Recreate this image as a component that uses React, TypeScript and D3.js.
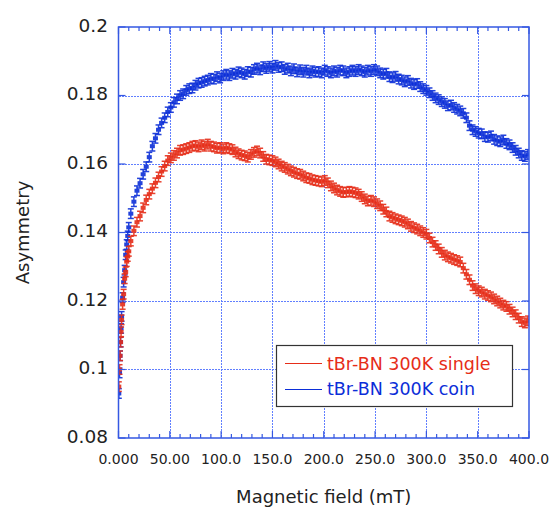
import React from "react";
import * as d3 from "d3";

const W = 552;
const H = 507;

const xTicks = [0, 50, 100, 150, 200, 250, 300, 350, 400];
const xTickLabels = ["0.000", "50.00", "100.0", "150.0", "200.0", "250.0", "300.0", "350.0", "400.0"];
const yTicks = [0.08, 0.1, 0.12, 0.14, 0.16, 0.18, 0.2];
const yTickLabels = ["0.08", "0.1", "0.12", "0.14", "0.16", "0.18", "0.2"];

const field = [
  0.3, 1, 1.5, 2, 2.5, 3, 4, 5, 6, 7, 8, 9, 10, 12, 15, 18, 21, 24, 27, 30, 33, 36, 39, 42, 45, 48,
  51, 54, 57, 60, 63, 66, 69, 72, 75, 78, 81, 84, 87, 90, 93, 96, 99, 102, 105, 108, 111, 114, 117,
  120, 123, 126, 129, 132, 135, 138, 141, 144, 147, 150, 153, 156, 159, 162, 165, 168, 171, 174, 177,
  180, 183, 186, 189, 192, 195, 198, 201, 204, 207, 210, 213, 216, 219, 222, 225, 228, 231, 234, 237,
  240, 243, 246, 249, 252, 255, 258, 261, 264, 267, 270, 273, 276, 279, 282, 285, 288, 291, 294, 297,
  300, 303, 306, 309, 312, 315, 318, 321, 324, 327, 330, 333, 336, 339, 342, 345, 348, 351, 354, 357,
  360, 363, 366, 369, 372, 375, 378, 381, 384, 387, 390, 393, 396, 399,
];

const coin = [
  0.093, 0.099, 0.104, 0.108, 0.112, 0.1155, 0.121, 0.1255, 0.129, 0.1335, 0.1365, 0.139, 0.1415,
  0.1455, 0.149, 0.1522, 0.1544, 0.157, 0.1592, 0.162, 0.1652, 0.1675, 0.17, 0.172, 0.1735, 0.1752,
  0.1765, 0.178, 0.179, 0.18, 0.1805, 0.1815, 0.182, 0.1822, 0.183, 0.1836, 0.1838, 0.1842, 0.1845,
  0.185, 0.1848, 0.1855, 0.1851, 0.1858, 0.1862, 0.1858, 0.1865, 0.1862, 0.1869, 0.1866, 0.1862,
  0.187, 0.1868, 0.1876, 0.188, 0.1875, 0.1884, 0.1879, 0.1885, 0.188, 0.1888, 0.1882, 0.1884,
  0.1876, 0.188, 0.1872, 0.1878, 0.1869, 0.1875, 0.1868, 0.1874, 0.1866, 0.1872, 0.1868, 0.187,
  0.1866, 0.1874, 0.187, 0.1866, 0.1872, 0.1868, 0.1874, 0.1872, 0.1866, 0.187, 0.1874, 0.187,
  0.1876, 0.1872, 0.1868, 0.1874, 0.187, 0.1876, 0.1872, 0.1866, 0.1862, 0.1865, 0.1855, 0.1852,
  0.1856, 0.1848, 0.1845, 0.184, 0.1844, 0.1836, 0.1832, 0.1835, 0.1826, 0.182, 0.1815, 0.1808,
  0.18, 0.1793, 0.1788, 0.1782, 0.1777, 0.177, 0.1772, 0.1765, 0.176, 0.1755, 0.1748, 0.1735,
  0.1712, 0.17, 0.1695, 0.169, 0.1688, 0.168, 0.1678, 0.1682, 0.1672, 0.1668, 0.1665, 0.167, 0.166,
  0.1656, 0.1648, 0.164, 0.1632, 0.1625, 0.1622, 0.1628,
];

const single = [
  0.095, 0.1, 0.104, 0.108, 0.111, 0.1145, 0.119, 0.122, 0.1265, 0.1285, 0.1315, 0.133, 0.1345,
  0.1375, 0.1405, 0.143, 0.1448, 0.1472, 0.1495, 0.1512, 0.1528, 0.1545, 0.1562, 0.1578, 0.1594,
  0.161, 0.1618, 0.1625, 0.1632, 0.164, 0.1642, 0.1645, 0.1648, 0.1652, 0.1654, 0.165, 0.1656,
  0.1652, 0.1658, 0.1652, 0.165, 0.1646, 0.1648, 0.1644, 0.1648, 0.1645, 0.1642, 0.1635, 0.163,
  0.1626, 0.1624, 0.162, 0.1628, 0.1634, 0.1638, 0.1632, 0.1622, 0.1614, 0.1612, 0.161, 0.1606, 0.16,
  0.1594, 0.159, 0.1585, 0.158, 0.1576, 0.1572, 0.157, 0.1565, 0.156, 0.1558, 0.1554, 0.1552, 0.155,
  0.1548, 0.1552, 0.1545, 0.1536, 0.153, 0.1524, 0.152, 0.1517, 0.1518, 0.152, 0.1518, 0.1516,
  0.1512, 0.1505, 0.1498, 0.1492, 0.1494, 0.149, 0.1484, 0.1478, 0.1468, 0.146, 0.1448, 0.1444,
  0.144, 0.1437, 0.1434, 0.143, 0.1425, 0.1418, 0.1414, 0.141, 0.1405, 0.14, 0.1395, 0.1384, 0.1372,
  0.1362, 0.1352, 0.1342, 0.1334, 0.1329, 0.1325, 0.1321, 0.1318, 0.1314, 0.1296, 0.1278, 0.1262,
  0.1245, 0.1236, 0.123, 0.1226, 0.122, 0.1216, 0.1212, 0.1206, 0.12, 0.1194, 0.1188, 0.1184, 0.1176,
  0.1168, 0.116, 0.115, 0.114, 0.1136, 0.1142,
];

const errCoin = 0.0014;
const errSingle = 0.0014;

const seriesNames = ["tBr-BN 300K single", "tBr-BN 300K coin"];
const RED = "#e62d18";
const BLUE = "#0b2ed8";

const margin = { left: 118.5, right: 23, top: 27, bottom: 69 };

export default function App() {
  const x = d3.scaleLinear().domain([0, 400]).range([margin.left, W - margin.right]);
  const y = d3.scaleLinear().domain([0.08, 0.2]).range([H - margin.bottom, margin.top]);
  const [x0, x1] = x.range();
  const [yb, yt] = y.range();
  const minorX = d3.range(0, 401, 10).filter((v) => v % 50 !== 0);
  const gridColor = "#2d55ff";
  const fontFam = "'DejaVu Sans', Verdana, sans-serif";
  const px = (v: number) => Math.round(v) + 0.5;

  const renderSeries = (vals: number[], err: number, color: string) =>
    field.map((f, i) => {
      const cx = x(f);
      const cy = y(vals[i]);
      const ylo = y(vals[i] - err);
      const yhi = y(vals[i] + err);
      return (
        <g key={i} stroke={color} strokeWidth={1.5} opacity={0.9}>
          <line x1={cx} x2={cx} y1={ylo} y2={yhi} />
          <line x1={cx - 3} x2={cx + 3} y1={ylo} y2={ylo} />
          <line x1={cx - 3} x2={cx + 3} y1={yhi} y2={yhi} />
          <rect x={cx - 2.5} y={cy - 2} width={5} height={4} fill={color} stroke="none" />
        </g>
      );
    });

  return (
    <svg
      width={W}
      height={H}
      style={{ position: "absolute", left: 0, top: 0, background: "#fff" }}
      fontFamily={fontFam}
    >
      <defs>
        <clipPath id="plotClip">
          <rect x={x0} y={yt} width={x1 - x0} height={yb - yt} />
        </clipPath>
      </defs>
      <rect x={0} y={0} width={W} height={H} fill="#fff" />
      {/* grid */}
      <g stroke={gridColor} strokeWidth={1} strokeDasharray="2 1" shapeRendering="crispEdges" opacity={0.75}>
        {xTicks.slice(1, -1).map((t) => (
          <line key={"gx" + t} x1={px(x(t))} x2={px(x(t))} y1={yt} y2={yb} />
        ))}
        {yTicks.slice(1, -1).map((t) => (
          <line key={"gy" + t} x1={x0} x2={x1} y1={px(y(t))} y2={px(y(t))} />
        ))}
      </g>
      {/* data */}
      <g clipPath="url(#plotClip)">
        {renderSeries(coin, errCoin, BLUE)}
        {renderSeries(single, errSingle, RED)}
      </g>
      {/* frame and ticks */}
      <rect x={x0} y={yt} width={x1 - x0} height={yb - yt} fill="none" stroke="#3558e2" strokeWidth={1.5} />
      <g stroke="#3558e2" strokeWidth={1.2}>
        {minorX.map((t) => (
          <g key={"mx" + t}>
            <line x1={x(t)} x2={x(t)} y1={yb} y2={yb - 4} />
            <line x1={x(t)} x2={x(t)} y1={yt} y2={yt + 4} />
          </g>
        ))}
        {xTicks.map((t) => (
          <g key={"Mx" + t}>
            <line x1={x(t)} x2={x(t)} y1={yb} y2={yb - 7} />
            <line x1={x(t)} x2={x(t)} y1={yt} y2={yt + 7} />
          </g>
        ))}
        {yTicks.map((t) => (
          <g key={"My" + t}>
            <line x1={x0} x2={x0 + 7} y1={y(t)} y2={y(t)} />
            <line x1={x1} x2={x1 - 7} y1={y(t)} y2={y(t)} />
          </g>
        ))}
      </g>
      {/* tick labels */}
      <g fill="#222" fontSize={18.5} textAnchor="end">
        {yTicks.map((t, i) => (
          <text key={"yl" + t} x={108} y={y(t) - 2} dominantBaseline="central">
            {yTickLabels[i]}
          </text>
        ))}
      </g>
      <g fill="#222" fontSize={14} textAnchor="middle">
        {xTicks.map((t, i) => (
          <text key={"xl" + t} x={x(t)} y={459} dominantBaseline="central">
            {xTickLabels[i]}
          </text>
        ))}
      </g>
      {/* axis titles */}
      <text x={(x0 + x1) / 2} y={496} textAnchor="middle" dominantBaseline="central" fontSize={18} fill="#222">
        Magnetic field (mT)
      </text>
      <text
        transform={`translate(22, ${(yt + yb) / 2}) rotate(-90)`}
        textAnchor="middle"
        dominantBaseline="central"
        fontSize={18}
        fill="#222"
      >
        Asymmetry
      </text>
      {/* legend */}
      <g>
        <rect x={276.5} y={345.5} width={236} height={61} fill="#fff" stroke="#333" strokeWidth={1.2} />
        <line x1={285} x2={322} y1={363.5} y2={363.5} stroke={RED} strokeWidth={1} shapeRendering="crispEdges" />
        <line x1={285} x2={322} y1={389.5} y2={389.5} stroke={BLUE} strokeWidth={1} shapeRendering="crispEdges" />
        <text x={327} y={363.5} dominantBaseline="central" fontSize={17.5} fill={RED}>
          {seriesNames[0]}
        </text>
        <text x={327} y={389} dominantBaseline="central" fontSize={17.5} fill={BLUE}>
          {seriesNames[1]}
        </text>
      </g>
    </svg>
  );
}
